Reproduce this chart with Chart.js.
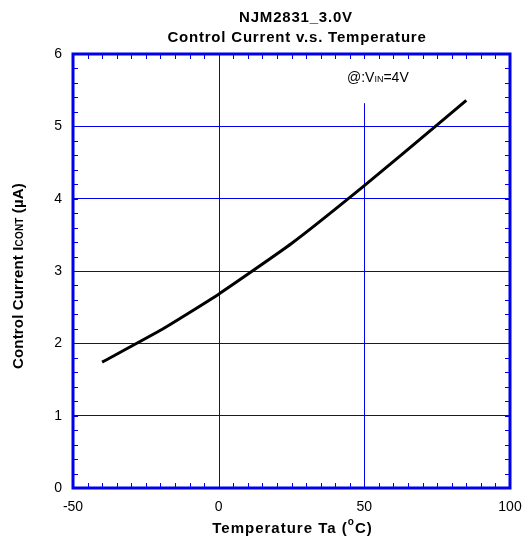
<!DOCTYPE html>
<html>
<head>
<meta charset="utf-8">
<script src="https://cdn.jsdelivr.net/npm/chart.js@4/dist/chart.umd.min.js"></script>
<style>
  html, body { margin: 0; padding: 0; background: #fff; }
  #wrap { width: 523px; height: 539px; }
</style>
</head>
<body>
<div id="wrap"><canvas id="myChart"></canvas></div>
<script>
// values
var temps = [-40, -20, 0, 25, 50, 75, 85];
var current = [1.74, 2.18, 2.68, 3.38, 4.18, 5.02, 5.36];
var xTicks = [-50, 0, 50, 100];
var yTicks = [0, 1, 2, 3, 4, 5, 6];
var titleLines = ['NJM2831_3.0V', 'Control Current v.s. Temperature'];

var blue = 'rgb(0,0,235)';
var font = '"Liberation Sans", Arial, sans-serif';

// gridline at x=50 stops below the note
var noteBottom = 5.32;

// draw text pieces in a row: [text, size, dy]
function drawRuns(ctx, runs, x, y, weight, spacing, center) {
    var widths = runs.map(r => {
        ctx.font = weight + ' ' + r[1] + 'px ' + font;
        ctx.letterSpacing = spacing + 'px';
        return ctx.measureText(r[0]).width;
    });
    var total = widths.reduce((s, w) => s + w, 0);
    var px = center ? x - total / 2 : x;
    ctx.textAlign = 'left';
    runs.forEach((r, i) => {
        ctx.font = weight + ' ' + r[1] + 'px ' + font;
        ctx.letterSpacing = spacing + 'px';
        ctx.fillText(r[0], px, y + (r[2] || 0));
        px += widths[i];
    });
    ctx.letterSpacing = '0px';
}

var framePlugin = {
    id: 'frame',
    beforeDatasetsDraw(chart) {
        var ctx = chart.ctx, xs = chart.scales.x, ys = chart.scales.y;
        var a = chart.chartArea;
        ctx.save();
        ctx.strokeStyle = blue;
        ctx.lineWidth = 1;
        // vertical grid
        xTicks.slice(1, -1).forEach(v => {
            var px = Math.round(xs.getPixelForValue(v)) + 0.5;
            var top = v === 50 ? ys.getPixelForValue(noteBottom) : a.top;
            ctx.beginPath();
            ctx.moveTo(px, top);
            ctx.lineTo(px, a.bottom);
            ctx.stroke();
            if (v === 50) {
                ctx.beginPath();
                ctx.moveTo(px, a.top); ctx.lineTo(px, a.top + 5);
                ctx.stroke();
            }
        });
        // inner minor ticks
        for (var v = -45; v < 100; v += 5) {
            var px = Math.round(xs.getPixelForValue(v)) + 0.5;
            ctx.beginPath();
            ctx.moveTo(px, a.bottom); ctx.lineTo(px, a.bottom - 5);
            ctx.moveTo(px, a.top); ctx.lineTo(px, a.top + 5);
            ctx.stroke();
        }
        for (var i = 1; i < 30; i++) {
            var py = Math.round(ys.getPixelForValue(i * 0.2)) + 0.5;
            ctx.beginPath();
            ctx.moveTo(a.left, py); ctx.lineTo(a.left + 5, py);
            ctx.moveTo(a.right, py); ctx.lineTo(a.right - 5, py);
            ctx.stroke();
        }
        ctx.restore();
    },
    afterDraw(chart) {
        var ctx = chart.ctx, a = chart.chartArea;
        ctx.save();
        ctx.strokeStyle = blue;
        ctx.lineWidth = 3;
        ctx.strokeRect(a.left, a.top, a.right - a.left, a.bottom - a.top);

        ctx.fillStyle = '#000';
        ctx.textBaseline = 'alphabetic';

        // title
        drawRuns(ctx, [[titleLines[0], 15]], 296, 22, 'bold', 0.8, true);
        drawRuns(ctx, [[titleLines[1], 15]], 297, 42, 'bold', 0.8, true);

        // x axis title with superscript
        var cx = (a.left + a.right) / 2;
        drawRuns(ctx, [['Temperature Ta (', 15], ['o', 10, -8], ['C)', 15]],
            cx + 1, 533, 'bold', 1, true);

        // y axis title with subscript
        ctx.translate(23, (a.top + a.bottom) / 2 + 5);
        ctx.rotate(-Math.PI / 2);
        drawRuns(ctx, [['Control Current I', 15], ['CONT', 10], [' (\u00b5A)', 15]],
            0, 0, 'bold', 0.15, true);
        ctx.setTransform(1, 0, 0, 1, 0, 0);
        ctx.restore();

        // note
        ctx.save();
        ctx.fillStyle = '#000';
        drawRuns(ctx, [['@:V', 14], ['IN', 9], ['=4V', 14]], 347, 82, 'normal', 0, false);
        ctx.restore();
    }
};

var config = {
    type: 'scatter',
    data: {
        datasets: [
            {
                data: temps.map((t, i) => ({ x: t, y: current[i] })),
                showLine: true,
                borderColor: '#000',
                borderWidth: 3,
                pointRadius: 0,
                tension: 0.15,
                fill: false
            }
        ]
    },
    options: {
        responsive: true,
        maintainAspectRatio: false,
        animation: false,
        layout: { padding: { left: 0, top: 54, right: 13, bottom: 0 } },
        plugins: {
            legend: { display: false },
            tooltip: { enabled: false },
            title: { display: false }
        },
        scales: {
            x: {
                type: 'linear',
                min: -50,
                max: 100,
                afterBuildTicks: s => { s.ticks = xTicks.map(v => ({ value: v })); },
                afterFit: s => { s.height = 51; s.paddingLeft = 0; s.paddingRight = 0; },
                grid: { display: false, drawTicks: false },
                border: { display: false },
                ticks: {
                    color: '#000',
                    padding: 11,
                    font: { family: font, size: 14 }
                }
            },
            y: {
                min: 0,
                max: 6,
                afterBuildTicks: s => { s.ticks = yTicks.map(v => ({ value: v })); },
                afterFit: s => { s.width = 73; s.paddingTop = 0; s.paddingBottom = 0; },
                grid: { color: blue, lineWidth: 1, drawTicks: false },
                border: { display: false },
                ticks: {
                    color: '#000',
                    padding: 11,
                    font: { family: font, size: 14 }
                }
            }
        }
    },
    plugins: [framePlugin]
};

new Chart(document.getElementById('myChart'), config);
</script>
</body>
</html>
